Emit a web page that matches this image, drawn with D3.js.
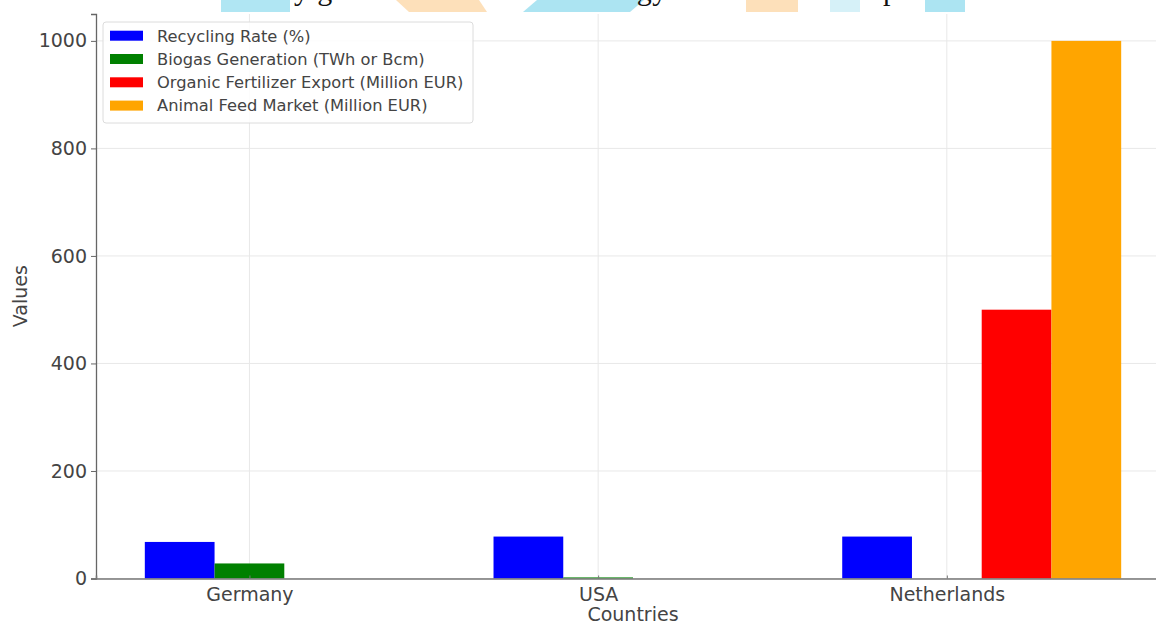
<!DOCTYPE html>
<html>
<head>
<meta charset="utf-8">
<script src="https://cdn.jsdelivr.net/npm/d3@7"></script>
<style>
  html, body { margin: 0; padding: 0; background: #fff; }
  svg { display: block; }
</style>
</head>
<body>
<svg id="chart" width="1156" height="626"></svg>
<script>
// ---- data ----
const countries = ["Germany", "USA", "Netherlands"];
const seriesNames = ["Recycling Rate (%)", "Biogas Generation (TWh or Bcm)", "Organic Fertilizer Export (Million EUR)", "Animal Feed Market (Million EUR)"];
const recyclingRate = [68, 78, 78];
const biogasGeneration = [28, 2, 0];
const fertilizerExport = [0, 0, 500];
const animalFeedMarket = [0, 0, 1000];
const seriesColors = ["#0000ff", "#008000", "#ff0000", "#ffa500"];
const yTicks = [0, 200, 400, 600, 800, 1000];
const xLabel = "Countries";
const yLabel = "Values";
const docTitle = "Country growth via Waste Bioenergy and Circular Output";

const seriesValues = [recyclingRate, biogasGeneration, fertilizerExport, animalFeedMarket];

const svg = d3.select("#chart");
const font = "DejaVu Sans, sans-serif";

const x = d3.scaleLinear().domain([-0.44, 2.64]).range([96, 1170]);
const y = d3.scaleLinear().domain([0, 1050]).range([578.5, 14]);
const barW = 0.2;

// grid
const g = svg.append("g");
g.selectAll("line.hg").data(yTicks).join("line")
  .attr("x1", x(-0.44)).attr("x2", x(2.64))
  .attr("y1", d => y(d)).attr("y2", d => y(d))
  .attr("stroke", "#e8e8e8").attr("stroke-width", 1);
g.selectAll("line.vg").data(countries).join("line")
  .attr("x1", (d, i) => x(i)).attr("x2", (d, i) => x(i))
  .attr("y1", y(0)).attr("y2", y(1050))
  .attr("stroke", "#e8e8e8").attr("stroke-width", 1);

// bars
seriesValues.forEach((vals, k) => {
  g.selectAll("rect.s" + k).data(vals).join("rect")
    .attr("x", (d, i) => x(i + (k - 1) * barW - barW / 2))
    .attr("width", x(barW) - x(0))
    .attr("y", d => y(d))
    .attr("height", d => y(0) - y(d))
    .attr("fill", seriesColors[k]);
});

// axes
const yAxis = d3.axisLeft(y).tickValues(yTicks).tickSize(5).tickPadding(4).tickFormat(d3.format("d"));
const ya = svg.append("g").attr("transform", `translate(${x(-0.44)},0)`).call(yAxis);
ya.select(".domain").attr("stroke", "#666").attr("stroke-width", 1.3);
ya.selectAll(".tick line").attr("stroke", "#666");
ya.selectAll(".tick text").attr("font-family", font).attr("font-size", 19).attr("fill", "#444");

const xAxis = d3.axisBottom(x).tickValues(countries.map((d, i) => i))
  .tickFormat(i => countries[i]).tickSize(-3).tickPadding(9);
const xa = svg.append("g").attr("transform", `translate(0,${y(0)})`).call(xAxis);
xa.select(".domain").attr("stroke", "#777").attr("stroke-width", 1.5);
xa.selectAll(".tick line").attr("stroke", "#777");
xa.selectAll(".tick text").attr("font-family", font).attr("font-size", 19).attr("fill", "#444");

// axis labels
svg.append("text").attr("x", (x(-0.44) + x(2.64)) / 2).attr("y", 621)
  .attr("text-anchor", "middle").attr("font-family", font).attr("font-size", 19).attr("fill", "#444")
  .text(xLabel);
svg.append("text").attr("transform", `translate(27,${(y(0) + y(1050)) / 2}) rotate(-90)`)
  .attr("text-anchor", "middle").attr("font-family", font).attr("font-size", 19).attr("fill", "#444")
  .text(yLabel);

// legend
const lg = svg.append("g");
lg.append("rect").attr("x", 103).attr("y", 22).attr("width", 370).attr("height", 101)
  .attr("rx", 3).attr("fill", "#fff").attr("fill-opacity", 0.85).attr("stroke", "#dcdcdc");
seriesNames.forEach((name, k) => {
  const cy = 35.7 + k * 23.3;
  lg.append("rect").attr("x", 110).attr("y", cy - 5).attr("width", 33).attr("height", 10).attr("fill", seriesColors[k]);
  lg.append("text").attr("x", 157).attr("y", cy).attr("dy", "0.36em")
    .attr("font-family", font).attr("font-size", 16.3).attr("fill", "#444").text(name);
});

// top document band (cropped page header with watermark)
const band = svg.append("g");
band.append("rect").attr("x", 0).attr("y", 0).attr("width", 1156).attr("height", 12).attr("fill", "#fff");
const shapes = [
  { pts: [[221, 0], [290, 0], [290, 12], [221, 12]], c: "#b0e6f3" },
  { pts: [[396, 0], [479, 0], [487, 12], [409, 12]], c: "#fde0ba" },
  { pts: [[537, 0], [644, 0], [630, 12], [523, 12]], c: "#ace4f2" },
  { pts: [[746, 0], [798, 0], [798, 12], [746, 12]], c: "#fde0ba" },
  { pts: [[830, 0], [860, 0], [860, 12], [830, 12]], c: "#d6f1f8" },
  { pts: [[925, 0], [965, 0], [965, 12], [925, 12]], c: "#ace4f2" }
];
band.selectAll("polygon").data(shapes).join("polygon")
  .attr("points", d => d.pts.map(p => p.join(",")).join(" "))
  .attr("fill", d => d.c);
const title = band.append("text").attr("x", 0).attr("y", 0)
  .attr("font-family", "Liberation Serif, serif").attr("font-size", 30).attr("fill", "#111")
  .text(docTitle);
// fit the cropped title so its visible descenders fall where the reference shows them
(function fitTitle() {
  const n = title.node();
  const iY = docTitle.indexOf("y");
  const iP = docTitle.lastIndexOf("p");
  try {
    const d0 = n.getStartPositionOfChar(iP).x - n.getStartPositionOfChar(iY).x;
    const ls = ((883 - 294) - d0) / (iP - iY);
    title.attr("letter-spacing", ls);
    const s = n.getStartPositionOfChar(iY).x;
    title.attr("x", 294 - s);
  } catch (e) {
    title.attr("x", 250);
  }
})();
</script>
</body>
</html>
